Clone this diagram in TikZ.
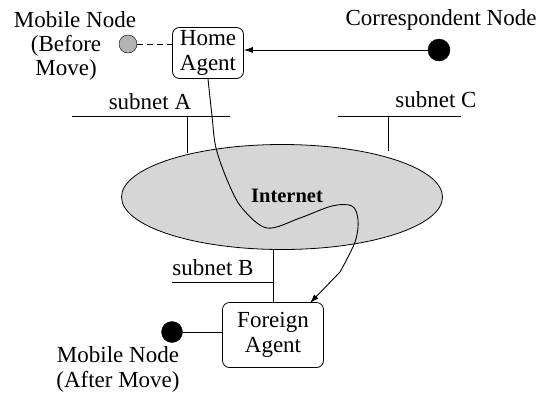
\documentclass[tikz,border=0pt]{standalone}
\usepackage{fontspec}
\setmainfont{Liberation Serif}
\usetikzlibrary{arrows.meta,shapes.geometric}
\begin{document}
\begin{tikzpicture}[x=1pt,y=-1pt,
  every node/.style={font=\fontsize{23}{25}\selectfont},
  txt/.style={align=center, inner sep=0pt},
  agent/.style={draw, rounded corners=7pt, align=center, inner sep=0pt, line width=0.8pt},
  host/.style={circle, draw, inner sep=0pt},
  wire/.style={line width=0.7pt},
  tip/.style={-{Latex[length=9pt,width=6pt]}}]
\useasboundingbox (0,0) rectangle (543,397);
% Internet
\node[ellipse, draw, fill=gray!32, line width=0.8pt, minimum width=321pt, minimum height=105pt, inner sep=0pt] (inet) at (282,197) {};
\node[txt, font=\fontsize{20.5}{25}\selectfont\bfseries] (inettxt) at (287,196) {Internet};
% agents
\node[agent, minimum width=71pt, minimum height=51pt] (ha) at (208,53) {Home\\Agent};
\node[agent, minimum width=101pt, minimum height=65pt] (fa) at (273,335) {Foreign\\Agent};
% hosts
\node[host, fill=gray!60, minimum size=18pt] (mnb) at (128,44) {};
\node[host, fill=black, minimum size=22pt] (cn) at (439,50) {};
\node[host, fill=black, minimum size=21pt] (mna) at (172,332) {};
% labels
\node[txt] (mnbl1) at (75,20) {Mobile Node};
\node[txt] (mnbl2) at (66,46) {(Before};
\node[txt] (mnbl3) at (66,70) {Move)};
\node[txt] (cnl) at (441,20) {Correspondent Node};
\node[txt] (mnal) at (118,369) {Mobile Node\\(After Move)};
\node[txt] (sal) at (150,102) {subnet A};
\node[txt] (scl) at (436,100) {subnet C};
\node[txt] (sbl) at (213,268) {subnet B};
% subnets
\coordinate (a1) at (72,116); \coordinate (a2) at (230,116);
\coordinate (c1) at (338,116); \coordinate (c2) at (461,116);
\coordinate (b1) at (172,282); \coordinate (b2) at (273,282);
\draw[wire] (a1) -- (a2);
\draw[wire] (c1) -- (c2);
\draw[wire] (b1) -- (b2);
\coordinate (av) at (187,116);
\coordinate (cv) at (388,116);
\coordinate (bv) at (273,249);
\draw[wire] (av) -- (187,153);
\draw[wire] (cv) -- (388,151);
\draw[wire] (bv) -- (fa.north);
% links
\draw[wire, dash pattern=on 6pt off 4pt] (mnb) -- (ha.west |- mnb);
\draw[wire, tip] (cn) -- (ha.east |- cn);
\draw[wire] (mna) -- (fa.west |- mna);
% tunnel path
\draw[line width=0.9pt, tip] plot[smooth, tension=0.55] coordinates {(ha.south) (212,116) (216,148) (228,182) (242,208) (267,228) (300,218) (332,206) (352,206) (358,220) (355,242) (340,272)} -- (310,303);
\end{tikzpicture}
\end{document}
